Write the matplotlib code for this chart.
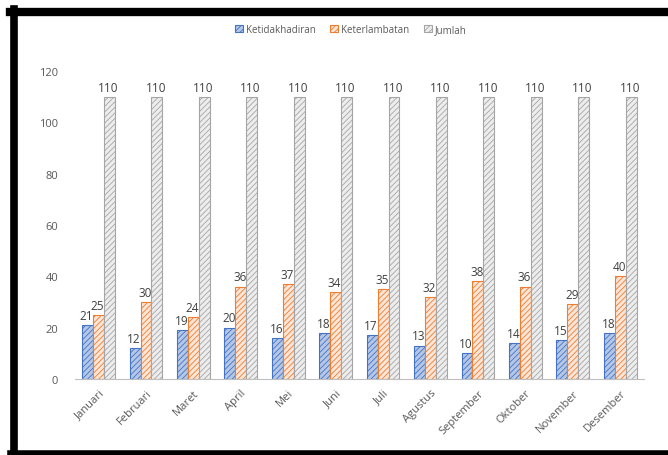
import matplotlib.pyplot as plt
import numpy as np
from matplotlib.lines import Line2D

# data
bulan = ['Januari', 'Februari', 'Maret', 'April', 'Mei', 'Juni', 'Juli',
         'Agustus', 'September', 'Oktober', 'November', 'Desember']
ketidakhadiran = [21, 12, 19, 20, 16, 18, 17, 13, 10, 14, 15, 18]
keterlambatan = [25, 30, 24, 36, 37, 34, 35, 32, 38, 36, 29, 40]
jumlah = [110] * 12

plt.rcParams['font.family'] = ['Open Sans', 'DejaVu Sans']
plt.rcParams['hatch.linewidth'] = 0.6

fig = plt.figure(figsize=(6.68, 4.56), dpi=100)
ax = fig.add_axes([0.112, 0.167, 0.852, 0.675])

x = np.arange(len(bulan))
w = 0.23
series = [
    (ketidakhadiran, '#b4c7e7', '#4472c4', 'Ketidakhadiran'),
    (keterlambatan, '#fbe5d6', '#ed7d31', 'Keterlambatan'),
    (jumlah, '#ededed', '#a5a5a5', 'Jumlah'),
]
for i, (vals, fc, ec, name) in enumerate(series):
    bars = ax.bar(x + (i - 1) * w, vals, w, color=fc, edgecolor=ec,
                  hatch='//////', linewidth=0.8, label=name)
    for b, v in zip(bars, vals):
        ax.text(b.get_x() + b.get_width() * 0.4, v + 1.2, str(v),
                ha='center', va='bottom', fontsize=8.5, color='#404040')

ax.set_xlim(-0.5, 11.5)
ax.set_ylim(0, 120)
ax.set_yticks(range(0, 121, 20))
ax.set_xticks(x)
ax.set_xticklabels(bulan, rotation=45, ha='right', rotation_mode='anchor',
                   fontsize=8, color='#595959')
ax.tick_params(axis='y', labelsize=8, labelcolor='#595959', length=0, pad=12)
ax.tick_params(axis='x', length=0, pad=6)
for s in ['top', 'right', 'left']:
    ax.spines[s].set_visible(False)
ax.spines['bottom'].set_color('#bfbfbf')

ax.legend(loc='center', bbox_to_anchor=(0.485, 1.135), ncol=3, frameon=False,
          fontsize=7, labelcolor='#595959', handlelength=0.8, handleheight=0.8,
          handletextpad=0.3, columnspacing=1.5)

# black frame
fig.add_artist(Line2D([10 / 668, 1], [1 - 13 / 456, 1 - 13 / 456],
                      transform=fig.transFigure, color='black', lw=6))
fig.add_artist(Line2D([13.5 / 668, 13.5 / 668], [1 - 10 / 456, 0],
                      transform=fig.transFigure, color='black', lw=5.5))
fig.add_artist(Line2D([10 / 668, 1], [2.5 / 456, 2.5 / 456],
                      transform=fig.transFigure, color='black', lw=4))

fig.savefig('out.png', dpi=100)
